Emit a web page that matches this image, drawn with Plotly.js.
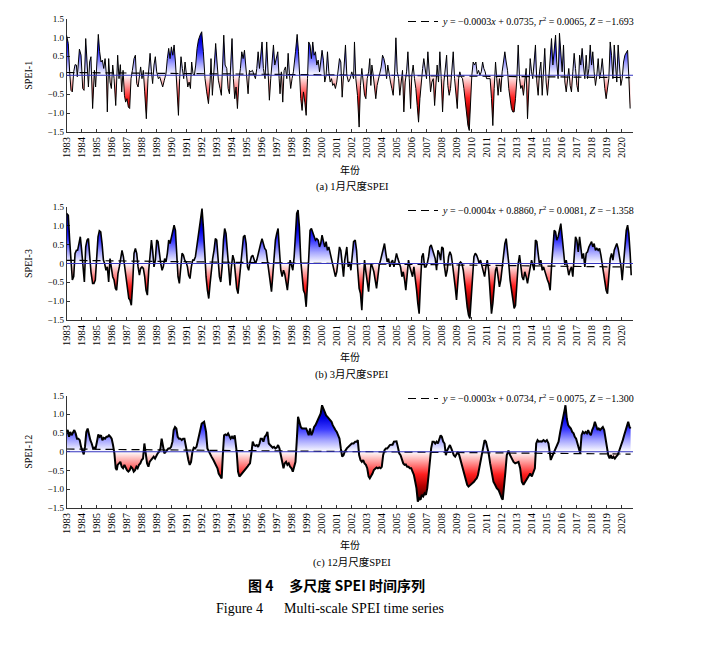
<!DOCTYPE html>
<html><head><meta charset="utf-8">
<script src="https://cdn.plot.ly/plotly-3.0.1.min.js"></script>
<style>html,body{margin:0;padding:0;background:#fff}#chart{width:718px;height:655px}</style>
</head><body><div id="chart"></div>
<script>
const years = [1983,1984,1985,1986,1987,1988,1989,1990,1991,1992,1993,1994,1995,1996,1997,1998,1999,2000,2001,2002,2003,2004,2005,2006,2007,2008,2009,2010,2011,2012,2013,2014,2015,2016,2017,2018,2019,2020];
const yTickValues = [-1.5,-1,-0.5,0,0.5,1,1.5];
const yTickLabels = ['\u22121.5','\u22121.0','\u22120.5','0','0.5','1.0','1.5'];

// SPEI-1 (decimal year, value)
const spei1Dates = [
1983.00,1983.12,1983.21,1983.30,1983.39,1983.48,1983.57,1983.66,1983.72,1983.86,1983.97,
1984.08,1984.17,1984.28,1984.37,1984.46,1984.54,1984.63,1984.74,1984.86,1984.94,
1985.03,1985.12,1985.21,1985.30,1985.39,1985.48,1985.57,1985.66,1985.72,1985.81,1985.90,1985.99,
1986.08,1986.17,1986.28,1986.41,1986.50,1986.59,1986.68,1986.77,1986.86,1986.94,
1987.03,1987.12,1987.21,1987.30,1987.39,1987.50,1987.59,1987.68,1987.77,1987.86,1987.94,
1988.03,1988.12,1988.21,1988.32,1988.43,1988.57,1988.66,1988.74,1988.83,1988.92,
1989.01,1989.12,1989.21,1989.30,1989.41,1989.52,1989.63,1989.72,1989.81,1989.90,1989.99,
1990.08,1990.17,1990.26,1990.34,1990.46,1990.54,1990.63,1990.72,1990.81,1990.90,1990.99,
1991.08,1991.17,1991.26,1991.34,1991.43,1991.52,1991.61,1991.70,1991.79,1991.90,
1992.01,1992.12,1992.23,1992.34,1992.46,1992.57,1992.63,1992.72,1992.83,1992.94,
1993.03,1993.12,1993.23,1993.32,1993.41,1993.48,1993.57,1993.68,1993.77,1993.86,1993.94,
1994.03,1994.12,1994.21,1994.30,1994.39,1994.50,1994.59,1994.68,1994.77,1994.86,1994.94,
1995.01,1995.10,1995.19,1995.28,1995.39,1995.50,1995.59,1995.68,1995.77,1995.86,1995.94,
1996.03,1996.12,1996.23,1996.34,1996.43,1996.52,1996.61,1996.70,1996.79,1996.88,1996.97,
1997.08,1997.17,1997.23,1997.32,1997.41,1997.50,1997.59,1997.68,1997.77,1997.86,1997.94,
1998.03,1998.12,1998.26,1998.37,1998.46,1998.54,1998.61,1998.70,1998.79,1998.88,1998.97,
1999.06,1999.14,1999.23,1999.32,1999.41,1999.50,1999.59,1999.68,1999.77,1999.86,1999.94,
2000.03,2000.12,2000.21,2000.30,2000.39,2000.48,2000.57,2000.66,2000.74,2000.83,2000.92,
2001.01,2001.10,2001.19,2001.28,2001.37,2001.46,2001.59,2001.68,2001.79,2001.90,
2002.01,2002.13,2002.19,2002.28,2002.39,2002.50,2002.59,2002.68,2002.77,2002.86,2002.95,
2003.04,2003.13,2003.21,2003.28,2003.35,2003.44,2003.53,2003.61,2003.70,2003.79,2003.88,2003.97,
2004.06,2004.15,2004.24,2004.33,2004.41,2004.50,2004.59,2004.68,2004.77,2004.86,2004.95,
2005.04,2005.13,2005.21,2005.30,2005.39,2005.48,2005.57,2005.66,2005.75,2005.84,2005.93,
2006.01,2006.10,2006.19,2006.28,2006.37,2006.46,2006.55,2006.64,2006.73,2006.81,2006.90,2006.99,
2007.08,2007.17,2007.26,2007.35,2007.44,2007.53,2007.61,2007.70,2007.79,2007.88,2007.97,
2008.06,2008.15,2008.24,2008.33,2008.41,2008.50,2008.59,2008.68,2008.77,2008.86,2008.95,
2009.04,2009.13,2009.21,2009.30,2009.39,2009.48,2009.57,2009.66,2009.75,2009.84,2009.93,
2010.01,2010.10,2010.19,2010.28,2010.37,2010.46,2010.55,2010.64,2010.73,2010.81,2010.90,2010.99,
2011.23,2011.32,2011.41,2011.50,2011.59,2011.67,2011.76,2011.85,2011.94,
2012.03,2012.12,2012.21,2012.30,2012.39,2012.47,2012.56,2012.65,2012.74,2012.83,2012.92,
2013.01,2013.10,2013.19,2013.27,2013.36,2013.45,2013.54,2013.63,2013.72,2013.81,2013.90,2013.99,
2014.07,2014.16,2014.25,2014.34,2014.43,2014.52,2014.61,2014.70,2014.79,2014.87,2014.96,
2015.05,2015.14,2015.23,2015.32,2015.41,2015.50,2015.59,2015.67,2015.76,2015.85,2015.94,
2016.03,2016.12,2016.21,2016.30,2016.39,2016.47,2016.56,2016.65,2016.74,2016.83,2016.92,
2017.01,2017.10,2017.19,2017.27,2017.36,2017.45,2017.54,2017.63,2017.72,2017.81,2017.90,2017.99,
2018.07,2018.16,2018.25,2018.34,2018.43,2018.52,2018.61,2018.70,2018.79,2018.87,2018.96,
2019.05,2019.14,2019.23,2019.32,2019.41,2019.50,2019.59,2019.67,2019.76,2019.85,2019.94,
2020.03,2020.12,2020.21,2020.30,2020.39,2020.47,2020.56];
const spei1Values = [
1.06,0.84,0.09,-0.40,-0.44,0.09,0.28,0.27,-0.04,0.69,0.53,
-0.35,-0.40,0.97,0.35,-0.31,0.35,0.49,-0.88,0.13,-0.31,
0.44,1.08,0.62,0.35,0.40,0.18,0.44,0.00,-0.97,0.44,-0.18,-0.35,
0.27,-0.09,-0.80,0.53,-0.09,0.28,-0.44,0.13,-0.53,-0.71,
-0.62,-0.84,-0.88,-0.09,0.13,0.44,0.53,-0.22,-0.31,0.04,0.22,
-0.09,0.13,-0.44,-1.15,-0.09,0.58,0.09,-0.22,0.27,0.49,
0.09,-0.09,-0.04,-0.18,-0.31,-0.13,0.04,0.44,0.71,0.44,0.75,
0.53,0.80,0.35,-0.18,-1.06,-0.09,0.49,0.18,-0.09,0.35,-0.09,
-0.31,-0.18,-0.35,0.35,0.04,0.00,0.27,0.71,0.93,1.06,
1.15,0.62,-0.09,-0.44,-0.75,-0.18,0.44,-0.53,0.27,0.84,
0.35,-0.13,-0.35,-0.53,0.35,1.06,0.27,0.18,-0.35,-0.49,0.27,
0.97,-0.09,-0.62,-0.31,-0.88,-0.09,0.18,0.62,0.44,0.66,0.27,
-0.09,-0.49,0.13,0.09,0.13,0.00,-0.09,0.18,0.62,0.18,0.53,
0.88,0.18,-0.09,0.88,-0.09,-0.66,-0.09,0.27,0.80,0.27,0.44,
0.62,-0.09,-0.49,0.09,-0.71,0.13,0.22,-0.09,0.58,0.00,-0.35,
-0.09,0.09,0.62,1.08,0.62,-0.04,-0.62,-0.93,-0.44,-0.71,-1.06,
-0.09,0.88,0.80,0.44,0.88,0.53,0.62,0.27,0.40,0.09,0.35,
0.66,0.40,-0.18,0.00,0.62,0.09,-0.18,-0.09,-0.27,-0.22,-0.35,
-0.18,0.09,0.44,0.35,-0.58,0.00,0.80,0.00,-0.18,-0.09,
0.09,-0.09,0.88,-0.09,-0.53,-1.37,-0.27,0.18,-0.18,-0.53,-0.62,
-0.09,0.09,0.44,-0.27,0.27,0.00,-0.35,-0.62,-0.27,-0.09,0.04,0.22,
0.53,0.44,0.27,-0.09,0.27,0.00,-0.18,-0.35,-0.53,0.00,0.99,
0.09,-0.09,-0.53,-0.09,0.13,-0.97,-0.18,0.09,0.62,-0.09,-0.88,
0.00,0.27,-0.09,-0.35,-0.80,-1.24,-0.62,-0.09,0.18,0.44,0.09,-0.09,
0.62,0.00,-0.44,-0.18,-0.09,-0.80,-0.09,0.27,-0.18,0.62,-0.09,
-0.97,-0.18,0.18,0.53,-0.27,-0.53,-0.35,0.18,0.62,-0.09,-0.62,
-0.88,-0.09,0.09,-0.04,-0.09,-0.35,-0.71,-0.88,-1.33,-1.46,-0.62,
0.00,0.35,0.27,0.35,0.04,0.13,0.00,0.09,0.35,0.18,0.09,-0.09,
-0.09,-0.62,-1.33,-0.35,0.35,-0.09,-0.53,-0.09,-0.44,
0.09,0.35,0.62,0.35,0.13,-0.35,-0.62,-0.88,-0.97,-0.97,-0.62,
-0.09,0.80,-0.09,-0.35,-0.27,-0.53,-0.18,0.18,-1.15,-0.09,0.44,0.09,
-0.09,0.35,0.80,-0.18,-0.53,0.09,0.35,-0.53,0.09,0.71,-0.18,
-0.53,-0.09,0.53,0.97,0.27,0.62,1.06,0.35,-0.09,1.11,0.53,
0.09,0.80,-0.18,-0.44,-0.09,0.18,-0.27,-0.44,0.09,0.58,0.18,
-0.27,-0.44,0.53,0.27,0.71,0.27,-0.09,0.53,-0.09,0.18,0.80,0.27,
0.62,0.09,-0.27,0.00,0.44,-0.09,0.09,0.44,-0.09,-0.35,-0.62,
-0.31,-0.09,0.88,0.53,-0.09,0.80,0.27,-0.18,0.80,0.35,-0.27,
-0.09,0.35,0.53,0.62,0.66,-0.04,-0.88];

// SPEI-3
const spei3Dates = [
1983.00,1983.12,1983.21,1983.30,1983.39,1983.48,1983.57,1983.66,1983.74,1983.83,1983.92,
1984.01,1984.10,1984.19,1984.28,1984.37,1984.46,1984.54,1984.63,1984.74,1984.83,1984.92,
1985.01,1985.10,1985.19,1985.28,1985.37,1985.46,1985.54,1985.63,1985.72,1985.81,1985.90,1985.99,
1986.08,1986.17,1986.26,1986.34,1986.43,1986.52,1986.61,1986.70,1986.79,1986.88,1986.97,
1987.06,1987.15,1987.23,1987.32,1987.41,1987.50,1987.59,1987.68,1987.77,1987.86,1987.94,
1988.03,1988.12,1988.21,1988.30,1988.39,1988.48,1988.57,1988.66,1988.74,1988.83,1988.92,
1989.01,1989.10,1989.19,1989.28,1989.37,1989.45,1989.54,1989.63,1989.72,1989.81,1989.90,1989.99,
1990.08,1990.17,1990.26,1990.34,1990.43,1990.52,1990.61,1990.70,1990.79,1990.88,1990.97,
1991.06,1991.14,1991.23,1991.32,1991.41,1991.50,1991.59,1991.68,1991.77,1991.86,1991.95,
1992.03,1992.12,1992.21,1992.30,1992.39,1992.48,1992.57,1992.66,1992.74,1992.83,1992.92,
1993.01,1993.10,1993.19,1993.28,1993.37,1993.46,1993.54,1993.63,1993.72,1993.81,1993.90,1993.99,
1994.08,1994.17,1994.26,1994.34,1994.43,1994.52,1994.61,1994.70,1994.79,1994.88,1994.97,
1995.06,1995.14,1995.23,1995.32,1995.41,1995.50,1995.59,1995.68,1995.77,1995.86,1995.94,
1996.03,1996.12,1996.21,1996.30,1996.39,1996.48,1996.57,1996.66,1996.74,1996.83,1996.92,
1997.01,1997.10,1997.19,1997.28,1997.37,1997.46,1997.54,1997.63,1997.72,1997.81,1997.90,1997.99,
1998.08,1998.17,1998.26,1998.34,1998.43,1998.52,1998.61,1998.70,1998.79,1998.88,1998.97,
1999.06,1999.14,1999.23,1999.32,1999.41,1999.50,1999.59,1999.68,1999.77,1999.86,1999.94,
2000.03,2000.12,2000.21,2000.30,2000.39,2000.48,2000.57,2000.66,2000.74,2000.83,2000.92,
2001.01,2001.10,2001.19,2001.28,2001.37,2001.46,2001.54,2001.68,2001.77,2001.86,2001.95,
2002.04,2002.13,2002.24,2002.33,2002.41,2002.50,2002.59,2002.68,2002.77,2002.86,2002.95,
2003.04,2003.13,2003.21,2003.30,2003.39,2003.48,2003.57,2003.66,2003.75,2003.84,2003.93,
2004.01,2004.10,2004.19,2004.28,2004.37,2004.46,2004.55,2004.64,2004.73,2004.82,2004.90,2004.99,
2005.08,2005.17,2005.26,2005.35,2005.44,2005.53,2005.61,2005.70,2005.79,2005.88,2005.97,
2006.06,2006.15,2006.24,2006.33,2006.41,2006.50,2006.59,2006.68,2006.77,2006.86,2006.95,
2007.04,2007.13,2007.21,2007.30,2007.39,2007.48,2007.57,2007.66,2007.75,2007.84,2007.93,
2008.01,2008.10,2008.19,2008.28,2008.37,2008.46,2008.55,2008.64,2008.73,2008.81,2008.90,2008.99,
2009.08,2009.17,2009.26,2009.35,2009.44,2009.53,2009.61,2009.70,2009.79,2009.88,2009.97,
2010.06,2010.15,2010.24,2010.33,2010.41,2010.50,2010.59,2010.68,2010.77,2010.86,2010.95,
2011.04,2011.13,2011.21,2011.32,2011.41,2011.50,2011.59,2011.67,2011.76,2011.85,2011.94,
2012.03,2012.12,2012.21,2012.30,2012.39,2012.47,2012.56,2012.65,2012.74,2012.83,2012.92,
2013.01,2013.10,2013.19,2013.27,2013.36,2013.45,2013.54,2013.63,2013.72,2013.81,2013.90,2013.99,
2014.07,2014.16,2014.25,2014.34,2014.43,2014.52,2014.61,2014.70,2014.79,2014.87,2014.96,
2015.05,2015.14,2015.23,2015.32,2015.41,2015.50,2015.59,2015.67,2015.76,2015.85,2015.94,
2016.03,2016.12,2016.21,2016.30,2016.39,2016.47,2016.56,2016.65,2016.74,2016.83,2016.92,
2017.01,2017.10,2017.19,2017.27,2017.36,2017.45,2017.54,2017.63,2017.72,2017.81,2017.90,2017.99,
2018.07,2018.16,2018.25,2018.34,2018.43,2018.52,2018.61,2018.70,2018.79,2018.87,2018.96,
2019.05,2019.14,2019.23,2019.32,2019.41,2019.50,2019.59,2019.67,2019.76,2019.85,2019.94,
2020.03,2020.12,2020.21,2020.30,2020.39,2020.47,2020.56,2020.63];
const spei3Values = [
1.33,1.28,0.62,-0.09,-0.44,-0.35,0.27,0.35,0.35,0.53,0.71,
0.35,-0.09,-0.49,0.44,0.62,0.66,0.09,-0.22,-0.53,-0.53,-0.44,
0.35,0.71,0.87,0.84,0.53,0.09,0.00,-0.18,-0.09,-0.49,0.13,-0.18,
-0.35,-0.44,-0.66,-0.71,-0.27,-0.09,0.13,0.35,0.18,-0.09,-0.35,
-0.71,-0.93,-0.97,-1.11,-0.53,0.27,0.40,0.27,-0.09,-0.31,-0.13,
-0.09,-0.13,-0.35,-0.71,-0.84,-0.18,0.27,0.62,0.35,-0.09,0.09,
0.62,0.58,0.22,0.00,-0.18,-0.09,0.13,0.04,0.27,0.62,0.53,0.71,
0.88,1.02,0.88,0.35,-0.35,-0.53,-0.09,0.27,0.22,0.09,0.04,
-0.09,-0.31,-0.40,-0.09,0.09,0.09,0.18,0.44,0.71,0.97,1.33,
1.46,0.97,0.27,-0.35,-0.71,-0.93,-0.53,-0.09,0.13,0.35,0.66,
0.62,0.18,-0.35,-0.49,-0.09,0.62,0.93,0.80,0.27,-0.27,-0.58,-0.09,
0.22,0.09,-0.35,-0.66,-0.80,-0.44,-0.09,0.44,0.71,0.75,0.53,
-0.09,-0.18,0.04,0.18,0.22,0.13,0.00,0.09,0.27,0.35,0.53,
0.66,0.53,0.40,0.35,0.09,-0.09,-0.44,-0.75,-0.35,0.27,0.62,
0.80,0.93,0.35,-0.18,-0.35,-0.18,-0.27,-0.53,-0.71,-0.35,0.09,-0.04,
-0.18,0.18,0.80,1.33,1.42,0.97,0.09,-0.44,-0.71,-0.80,-1.15,
-0.53,0.18,0.88,0.93,0.84,0.75,0.62,0.66,0.62,0.44,0.53,
0.75,0.62,0.44,0.58,0.35,0.44,0.27,0.13,0.00,-0.22,-0.35,
-0.22,0.18,0.44,0.35,-0.09,-0.35,0.09,0.44,-0.09,0.04,-0.18,
0.13,0.58,0.62,0.35,-0.18,-0.66,-0.80,-1.24,-0.53,0.09,-0.22,
-0.53,-0.75,-0.35,0.00,-0.09,-0.22,-0.44,-0.66,-0.35,-0.04,0.09,
0.22,0.35,0.53,0.27,0.04,0.13,-0.09,0.04,0.09,-0.09,0.09,0.27,
0.13,0.04,-0.09,-0.35,-0.22,-0.44,-0.71,-0.31,0.09,-0.09,-0.27,
-0.35,-0.09,-0.35,-0.71,-1.06,-1.33,-0.53,0.18,0.27,-0.09,-0.09,
0.00,0.18,0.44,0.49,0.35,0.27,0.13,-0.18,0.35,0.27,0.09,
0.44,0.40,-0.09,-0.35,-0.18,0.18,0.31,0.22,-0.04,-0.27,-0.62,-0.97,
-0.35,0.00,0.04,0.00,-0.18,-0.44,-0.80,-1.15,-1.37,-1.46,-0.97,
-0.27,0.18,0.27,0.22,0.13,0.00,0.09,-0.09,-0.22,-0.35,-0.09,
0.09,-0.18,-0.62,-1.33,-1.06,-0.53,-0.18,-0.09,-0.35,-0.62,-0.44,
-0.09,0.18,0.53,0.66,0.35,0.00,-0.44,-0.71,-1.06,-1.19,-1.11,
-0.53,0.00,0.22,-0.09,-0.35,-0.44,-0.22,-0.35,-0.53,-0.31,-0.04,0.09,
-0.04,-0.18,0.62,0.58,0.27,-0.04,0.09,-0.18,-0.09,-0.22,-0.35,
-0.44,-0.53,-0.71,-0.09,0.35,0.88,0.84,0.62,0.71,0.93,1.06,
0.71,0.35,-0.04,0.09,-0.18,-0.31,-0.18,-0.09,-0.35,0.27,0.71,
0.62,0.31,0.71,0.44,0.13,0.27,-0.09,0.27,0.31,0.44,0.53,0.58,
0.44,0.53,0.35,0.40,0.35,0.40,0.22,0.00,-0.27,-0.44,-0.71,
-0.80,-0.27,0.13,0.27,0.09,0.35,0.44,0.53,0.40,0.18,-0.04,
-0.44,0.00,0.53,0.88,1.02,0.80,0.27,-0.31];

// SPEI-12
const spei12Dates = [
1983.00,1983.08,1983.17,1983.25,1983.34,1983.43,1983.52,1983.61,1983.70,1983.79,1983.88,1983.97,
1984.06,1984.15,1984.23,1984.32,1984.41,1984.50,1984.59,1984.68,1984.77,1984.86,1984.94,
1985.03,1985.12,1985.21,1985.30,1985.39,1985.48,1985.57,1985.66,1985.74,1985.83,1985.92,
1986.01,1986.10,1986.19,1986.28,1986.35,1986.41,1986.50,1986.59,1986.68,1986.77,1986.86,1986.94,
1987.03,1987.12,1987.21,1987.30,1987.39,1987.48,1987.57,1987.66,1987.74,1987.83,1987.92,
1988.01,1988.10,1988.19,1988.28,1988.37,1988.46,1988.54,1988.63,1988.72,1988.81,1988.90,1988.99,
1989.08,1989.17,1989.26,1989.34,1989.43,1989.52,1989.61,1989.70,1989.79,1989.88,1989.97,
1990.06,1990.14,1990.23,1990.32,1990.41,1990.50,1990.59,1990.68,1990.77,1990.86,1990.94,
1991.03,1991.12,1991.21,1991.30,1991.39,1991.48,1991.57,1991.66,1991.74,1991.83,1991.92,
1992.01,1992.17,1992.30,1992.39,1992.48,1992.57,1992.66,1992.79,1992.92,
1993.06,1993.14,1993.23,1993.34,1993.43,1993.50,1993.59,1993.68,1993.77,1993.86,1993.94,
1994.03,1994.12,1994.21,1994.30,1994.34,1994.43,1994.52,1994.61,1994.70,1994.79,1994.88,1994.97,
1995.06,1995.14,1995.23,1995.32,1995.41,1995.50,1995.59,1995.68,1995.77,1995.86,1995.94,
1996.03,1996.12,1996.21,1996.30,1996.39,1996.48,1996.57,1996.66,1996.74,1996.83,1996.92,
1997.01,1997.10,1997.19,1997.28,1997.37,1997.46,1997.54,1997.63,1997.72,1997.81,1997.90,1997.99,
1998.08,1998.17,1998.26,1998.34,1998.43,1998.52,1998.61,1998.70,1998.79,1998.88,1998.97,
1999.06,1999.14,1999.23,1999.32,1999.41,1999.50,1999.59,1999.68,1999.77,1999.86,1999.94,
2000.03,2000.12,2000.21,2000.30,2000.39,2000.48,2000.57,2000.66,2000.74,2000.83,2000.92,
2001.01,2001.10,2001.19,2001.28,2001.37,2001.46,2001.54,2001.68,2001.79,2001.90,
2002.01,2002.13,2002.24,2002.35,2002.41,2002.50,2002.59,2002.68,2002.77,2002.86,2002.95,
2003.04,2003.13,2003.21,2003.30,2003.39,2003.48,2003.57,2003.66,2003.75,2003.84,2003.93,
2004.01,2004.10,2004.19,2004.28,2004.37,2004.46,2004.55,2004.64,2004.73,2004.82,2004.90,2004.99,
2005.08,2005.17,2005.26,2005.35,2005.44,2005.53,2005.61,2005.70,2005.79,2005.88,2005.97,
2006.06,2006.15,2006.24,2006.32,2006.41,2006.50,2006.59,2006.68,2006.77,2006.86,2006.95,
2007.04,2007.13,2007.21,2007.30,2007.39,2007.48,2007.57,2007.66,2007.75,2007.84,2007.93,
2008.01,2008.10,2008.19,2008.28,2008.37,2008.46,2008.55,2008.64,2008.72,2008.81,2008.90,2008.99,
2009.08,2009.17,2009.26,2009.35,2009.44,2009.53,2009.62,2009.70,2009.79,2009.88,2009.97,
2010.06,2010.15,2010.24,2010.33,2010.42,2010.51,2010.59,2010.68,2010.77,2010.86,2010.95,
2011.04,2011.13,2011.23,2011.34,2011.45,2011.56,2011.67,2011.79,2011.90,
2012.01,2012.07,2012.16,2012.25,2012.34,2012.45,2012.56,2012.67,2012.79,2012.90,
2013.01,2013.12,2013.23,2013.34,2013.45,2013.56,2013.67,2013.79,2013.90,
2014.01,2014.12,2014.21,2014.30,2014.39,2014.47,2014.56,2014.67,2014.79,2014.90,
2015.01,2015.12,2015.19,2015.27,2015.36,2015.45,2015.56,2015.67,2015.79,2015.90,
2016.01,2016.12,2016.21,2016.25,2016.34,2016.43,2016.52,2016.61,2016.70,2016.79,2016.87,2016.96,
2017.05,2017.14,2017.23,2017.32,2017.41,2017.50,2017.59,2017.68,2017.76,2017.85,2017.94,
2018.03,2018.12,2018.21,2018.30,2018.39,2018.47,2018.56,2018.65,2018.74,2018.83,2018.92,
2019.01,2019.10,2019.19,2019.27,2019.36,2019.45,2019.54,2019.63,2019.72,2019.81,2019.90,2019.99,
2020.07,2020.16,2020.25,2020.34,2020.43,2020.52,2020.59];
const spei12Values = [
0.53,0.58,0.40,0.53,0.44,0.53,0.58,0.49,0.35,0.35,0.31,0.13,
0.00,-0.07,0.13,0.53,0.62,0.44,0.31,0.22,0.09,0.11,0.09,
0.27,0.46,0.40,0.44,0.31,0.37,0.35,0.40,0.40,0.44,0.40,
0.35,0.18,-0.04,-0.44,-0.49,-0.35,-0.31,-0.27,-0.40,-0.44,-0.35,-0.44,
-0.49,-0.53,-0.49,-0.40,-0.44,-0.53,-0.49,-0.40,-0.44,-0.35,-0.31,
-0.22,-0.18,0.22,0.00,-0.31,-0.40,-0.27,-0.22,-0.18,-0.13,-0.18,-0.09,
-0.04,0.00,0.09,0.35,0.09,-0.04,0.00,0.04,0.09,0.09,0.13,
0.27,0.58,0.66,0.62,0.40,0.35,0.35,0.31,0.35,0.35,0.18,
-0.09,-0.22,-0.35,-0.27,0.00,0.11,0.09,0.13,0.27,0.44,0.62,
0.75,0.80,0.53,0.09,0.00,-0.09,-0.13,-0.22,-0.35,
-0.44,-0.58,-0.66,-0.71,0.00,0.44,0.46,0.44,0.49,0.40,0.35,
0.40,0.35,0.44,0.22,0.00,-0.53,-0.66,-0.62,-0.58,-0.53,-0.49,-0.44,
-0.40,-0.35,-0.31,-0.04,0.27,0.18,0.16,0.18,0.13,0.22,0.35,
0.35,0.27,0.40,0.44,0.53,0.22,0.18,0.13,0.11,0.13,0.09,
0.11,0.18,0.09,-0.09,-0.35,-0.44,-0.31,-0.27,-0.35,-0.31,-0.40,-0.44,
-0.53,-0.40,-0.27,0.27,0.93,0.80,0.66,0.62,0.62,0.64,0.62,
0.53,0.44,0.62,0.44,0.53,0.66,0.71,0.80,0.84,0.97,1.02,
1.24,1.15,1.02,0.97,0.93,0.88,0.84,0.80,0.71,0.62,0.58,
0.53,0.44,0.35,0.09,-0.13,-0.09,0.00,0.09,0.13,0.18,
0.22,0.22,0.27,0.27,0.31,-0.09,-0.22,-0.27,-0.22,-0.31,-0.35,
-0.44,-0.66,-0.71,-0.66,-0.58,-0.49,-0.44,-0.42,-0.44,-0.42,-0.44,
-0.40,-0.09,0.04,0.09,0.09,0.13,0.18,0.19,0.19,0.27,0.27,0.28,
0.13,-0.04,-0.09,-0.22,-0.31,-0.35,-0.34,-0.40,-0.40,-0.44,-0.44,
-0.53,-0.62,-0.80,-0.97,-1.33,-1.24,-1.28,-1.15,-1.19,-1.11,-1.15,
-0.97,-0.62,-0.27,0.09,0.27,0.27,0.22,0.27,0.22,0.35,0.44,
0.40,0.27,0.22,-0.09,0.04,0.13,0.18,0.09,0.00,-0.09,-0.13,-0.04,
0.00,-0.09,-0.22,-0.35,-0.53,-0.66,-0.80,-0.88,-0.93,-0.90,-0.88,
-0.84,-0.80,-0.75,-0.71,-0.62,-0.44,-0.27,0.00,0.18,0.31,0.27,
0.13,-0.04,-0.31,-0.62,-0.80,-0.88,-0.97,-1.02,-1.15,
-1.24,-1.28,-0.97,-0.53,-0.09,0.03,-0.09,-0.18,-0.27,-0.31,
-0.28,-0.27,-0.44,-0.80,-0.88,-0.80,-0.71,-0.62,-0.58,
-0.66,-0.53,-0.44,0.22,0.31,0.27,0.28,0.27,0.31,0.27,
0.31,0.22,0.00,-0.22,-0.13,-0.04,0.04,0.13,0.27,0.53,
0.71,0.97,1.15,1.24,0.88,0.71,0.66,0.62,0.53,0.49,0.40,0.35,
0.22,0.09,-0.04,0.44,0.53,0.49,0.53,0.49,0.58,0.49,0.44,
0.58,0.66,0.80,0.66,0.58,0.62,0.58,0.62,0.66,0.58,0.40,
0.13,-0.09,-0.18,-0.09,-0.18,-0.13,-0.18,-0.13,-0.09,0.00,0.09,0.22,
0.31,0.44,0.58,0.71,0.80,0.66,0.62];

const panelNames = ['SPEI-1','SPEI-3','SPEI-12'];
const panelCaptions = ['(a) 1\u6708\u5c3a\u5ea6SPEI','(b) 3\u6708\u5c3a\u5ea6SPEI','(c) 12\u6708\u5c3a\u5ea6SPEI'];
const trendSlopes = [-0.0003,-0.0004,-0.0003];
const trendIntercepts = [0.0735,0.0860,0.0734];
const trendLabels = [
 '<i>y</i> = \u22120.0003<i>x</i> + 0.0735, <i>r</i><sup>2</sup> = 0.0065, <i>Z</i> = \u22121.693',
 '<i>y</i> = \u22120.0004<i>x</i> + 0.8860, <i>r</i><sup>2</sup> = 0.0081, <i>Z</i> = \u22121.358',
 '<i>y</i> = \u22120.0003<i>x</i> + 0.0734, <i>r</i><sup>2</sup> = 0.0075, <i>Z</i> = \u22121.300'];
const xAxisTitle = '\u5e74\u4efd';
const figureTitleCN = '\u56fe 4\u00a0\u00a0\u00a0\u00a0\u00a0\u591a\u5c3a\u5ea6 SPEI \u65f6\u95f4\u5e8f\u5217';
const figureTitleEN = 'Figure 4\u00a0\u00a0\u00a0\u00a0\u00a0\u00a0Multi-scale SPEI time series';

const series = [[spei1Dates,spei1Values],[spei3Dates,spei3Values],[spei12Dates,spei12Values]];
series.forEach((s,i)=>{ if (s[0].length !== s[1].length) throw new Error('length mismatch panel '+i+': '+s[0].length+' vs '+s[1].length); });

const W = 718, H = 655;
const SERIF = '"Liberation Serif","Times New Roman","Noto Sans CJK SC",serif';
const CJK = '"Liberation Serif","Noto Sans CJK SC",serif';
const fx = p => p / W, fy = p => 1 - p / H;
const plotLeft = 66.5, plotRight = 633;
const panelTop = [18.5, 207, 395.5], panelBottom = [132, 320, 508];
const lineWidths = [1, 1.6, 2];
const xTitleY = [170, 357, 545], captionY = [186, 374, 562];
const legendTop = [7, 196, 384];

const gradient = [
 [0.00,'#1a0000'],[0.10,'#5a0000'],[0.20,'#b80000'],[0.30,'#ff2020'],[0.40,'#ff9090'],
 [0.50,'#ffffff'],
 [0.60,'#a6a6ff'],[0.70,'#3a3aff'],[0.80,'#0000e0'],[0.90,'#000080'],[1.00,'#000020']];

const traces = [];
const layout = {
  width: W, height: H, margin: {l:0, r:0, t:0, b:0},
  paper_bgcolor: '#fff', plot_bgcolor: '#fff',
  font: {family: SERIF, color: '#000', size: 10},
  shapes: [], annotations: [], showlegend: true
};

function addText(text, xpx, ypx, font) {
  layout.annotations.push({text: text, xref: 'paper', yref: 'paper', x: fx(xpx), y: fy(ypx),
    xanchor: 'center', yanchor: 'middle', showarrow: false, font: font});
}

series.forEach((s, i) => {
  const n = i === 0 ? '' : String(i + 1);
  const xa = 'x' + n, ya = 'y' + n;
  const dates = s[0], vals = s[1];
  traces.push({
    type: 'scatter', mode: 'lines', x: dates, y: vals, xaxis: xa, yaxis: ya,
    fill: 'tozeroy',
    fillgradient: {type: 'vertical', start: -1.5, stop: 1.5, colorscale: gradient},
    line: {color: '#000', width: lineWidths[i]}, showlegend: false, hoverinfo: 'skip'
  });
  // trend line from slope/intercept over month index
  const t0 = dates[0], t1 = dates[dates.length - 1];
  const m0 = 1, m1 = Math.round((t1 - t0) * 12) + 1;
  traces.push({
    type: 'scatter', mode: 'lines', x: [t0, t1],
    y: [trendSlopes[i] * m0 + trendIntercepts[i], trendSlopes[i] * m1 + trendIntercepts[i]],
    xaxis: xa, yaxis: ya, name: trendLabels[i],
    legend: 'legend' + n,
    line: {color: '#000', width: 1.2, dash: '8px,5px'}, hoverinfo: 'skip'
  });
  layout['xaxis' + n] = {
    domain: [fx(plotLeft), fx(plotRight)], anchor: ya, range: [1983, 2020.75],
    tickvals: years, ticktext: years.map(String), tickangle: -90,
    ticks: 'inside', ticklen: 3, tickwidth: 0.8, tickcolor: '#000',
    showline: true, linecolor: '#000', linewidth: 0.8, mirror: false,
    showgrid: false, zeroline: false, tickfont: {size: 10.5, family: SERIF}, fixedrange: true
  };
  layout['yaxis' + n] = {
    domain: [fy(panelBottom[i]), fy(panelTop[i])], anchor: xa, range: [-1.5, 1.5],
    tickvals: yTickValues, ticktext: yTickLabels,
    ticks: 'inside', ticklen: 3, tickwidth: 0.8, tickcolor: '#000',
    showline: true, linecolor: '#000', linewidth: 0.8,
    showgrid: false, zeroline: false, tickfont: {size: 9, family: SERIF},
    title: {text: panelNames[i], font: {size: 10, family: SERIF}, standoff: 12}, fixedrange: true
  };
  layout['legend' + n] = {
    x: fx(403), xanchor: 'left', y: fy(legendTop[i]), yanchor: 'top',
    bgcolor: 'rgba(0,0,0,0)', borderwidth: 0, font: {size: 10, family: SERIF}
  };
  layout.shapes.push({type: 'line', xref: xa + ' domain', x0: 0, x1: 1, yref: ya, y0: 0, y1: 0,
    line: {color: '#3535c0', width: 1}, layer: 'above'});
  addText(xAxisTitle, 350, xTitleY[i], {size: 10, family: CJK});
  addText(panelCaptions[i], 352, captionY[i], {size: 10.5, family: CJK});
});
addText('<b>' + figureTitleCN + '</b>', 336, 585, {size: 14, family: '"Noto Sans CJK SC",sans-serif'});
addText(figureTitleEN, 330, 608, {size: 14, family: SERIF});

Plotly.newPlot('chart', traces, layout, {staticPlot: true, displayModeBar: false});
</script></body></html>
